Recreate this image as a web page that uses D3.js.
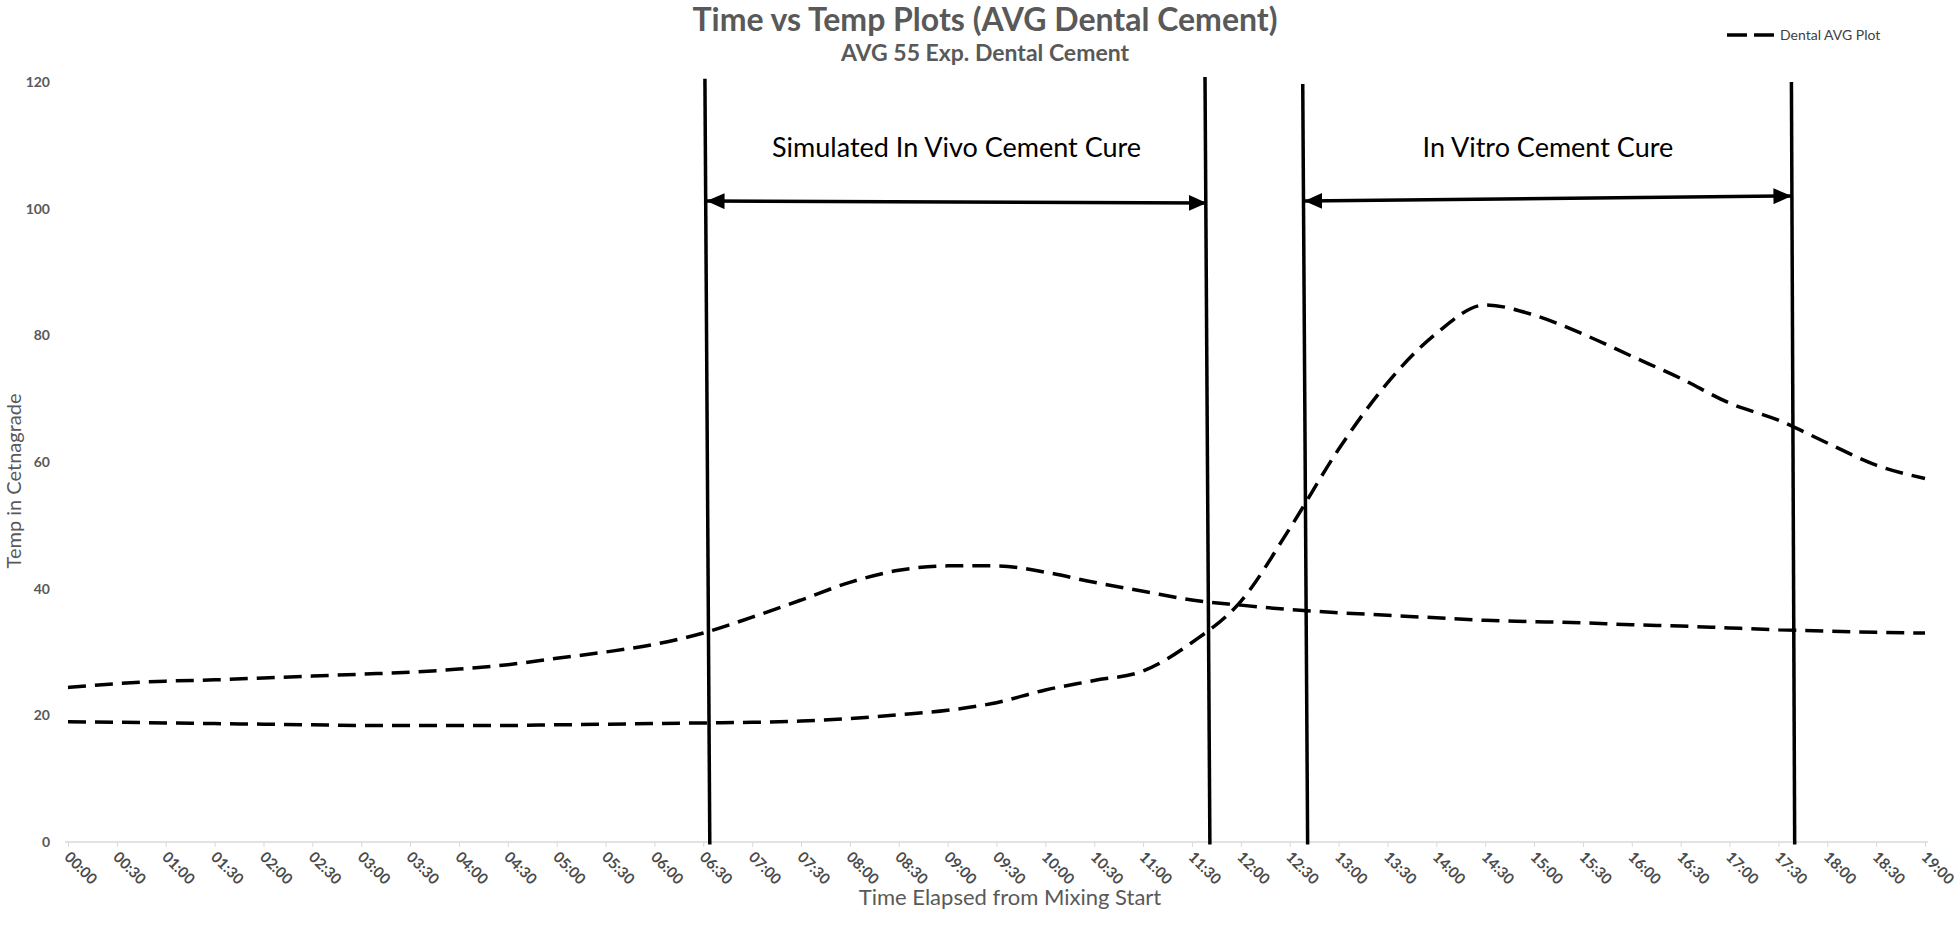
<!DOCTYPE html>
<html><head><meta charset="utf-8">
<script src="https://cdn.jsdelivr.net/npm/d3@7"></script>
<style>
body{margin:0;background:#fff}
text{font-family:Lato,"Open Sans",sans-serif}
</style>
</head><body>
<svg id="chart" width="1960" height="936"></svg>
<script>
// ---- data ----
const timeLabels = ["00:00","00:30","01:00","01:30","02:00","02:30","03:00","03:30","04:00","04:30",
  "05:00","05:30","06:00","06:30","07:00","07:30","08:00","08:30","09:00","09:30",
  "10:00","10:30","11:00","11:30","12:00","12:30","13:00","13:30","14:00","14:30",
  "15:00","15:30","16:00","16:30","17:00","17:30","18:00","18:30","19:00"];
const curveLowStart = [19.0,18.9,18.8,18.7,18.6,18.5,18.4,18.4,18.4,18.4,
  18.5,18.6,18.7,18.8,18.9,19.1,19.5,20.1,20.8,22.0,
  24.0,25.5,27.0,31.5,38.0,49.5,62.0,72.5,80.3,84.8,
  83.2,80.2,76.7,73.2,69.3,66.6,63.0,59.5,57.4];
const curveHighStart = [24.4,25.0,25.4,25.6,25.9,26.2,26.5,26.8,27.3,28.0,
  29.0,30.0,31.2,33.0,35.5,38.2,41.0,42.9,43.6,43.6,
  42.6,41.0,39.6,38.2,37.4,36.7,36.2,35.8,35.4,35.0,
  34.8,34.6,34.3,34.1,33.8,33.5,33.3,33.1,33.0];
const yTickValues = [0,20,40,60,80,100,120];
const legendLabel = "Dental AVG Plot";
// annotation lines: minutes elapsed at top/bottom, temperature at top/bottom
const cureLines = [
  {tTop:391, tBottom:394, vTop:120.5, vBottom:-0.4},
  {tTop:698, tBottom:701, vTop:120.8, vBottom:-0.4},
  {tTop:758, tBottom:761, vTop:119.7, vBottom:-0.4},
  {tTop:1058,tBottom:1060,vTop:120.0, vBottom:-0.4}
];
const cureArrows = [
  {tFrom:392, tTo:699, vFrom:101.2, vTo:100.9, label:"Simulated In Vivo Cement Cure", vLabel:108.2},
  {tFrom:759, tTo:1058, vFrom:101.2, vTo:102.0, label:"In Vitro Cement Cure", vLabel:108.2}
];

// ---- scales ----
const minutes = timeLabels.map(s => { const [h,m] = s.split(":").map(Number); return h*60+m; });
const x = d3.scaleLinear().domain([0, 1140]).range([68, 1925]);
const y = d3.scaleLinear().domain([0, 120]).range([842, 82]);
const svg = d3.select("#chart");
const grey = "#595959";

// titles
svg.append("text").attr("x", 985).attr("y", 31).attr("text-anchor","middle")
  .attr("font-size", 32).attr("font-weight","bold").attr("fill", grey)
  .text("Time vs Temp Plots (AVG Dental Cement)");
svg.append("text").attr("x", 985).attr("y", 61).attr("text-anchor","middle")
  .attr("font-size", 23).attr("font-weight","bold").attr("fill", grey)
  .text("AVG 55 Exp. Dental Cement");

// x axis
const xAxis = d3.axisBottom(x).tickValues(minutes).tickFormat((d,i)=>timeLabels[i]).tickSizeOuter(0).tickSize(5);
const gx = svg.append("g").attr("transform", `translate(0,${y(0)})`).call(xAxis);
gx.select(".domain").attr("stroke","#d9d9d9").attr("stroke-width",1.5)
  .attr("d", `M${x(0)-3},0H${x(1140)+3}`);
gx.selectAll(".tick line").attr("stroke","#d9d9d9");
gx.selectAll(".tick text")
  .attr("font-size", 15).attr("font-weight","bold").attr("fill", "#4a4a4a")
  .attr("text-anchor","start").attr("dy", null).attr("y", null)
  .attr("transform", "translate(-5,16) rotate(45)");

// y axis labels
const gy = svg.append("g").attr("transform", "translate(50,0)")
  .call(d3.axisLeft(y).tickValues(yTickValues).tickSize(0).tickPadding(0));
gy.select(".domain").remove();
gy.selectAll(".tick text").attr("font-size", 14).attr("font-weight","bold").attr("fill", grey);

// axis titles
svg.append("text").attr("transform", "translate(21,481) rotate(-90)").attr("text-anchor","middle")
  .attr("font-size", 20).attr("fill", grey).text("Temp in Cetnagrade");
svg.append("text").attr("x", 1010).attr("y", 905).attr("text-anchor","middle")
  .attr("font-size", 22).attr("fill", grey).text("Time Elapsed from Mixing Start");

// curves
const line = d3.line().x((d,i)=>x(minutes[i])).y(d=>y(d)).curve(d3.curveMonotoneX);
[curveHighStart, curveLowStart].forEach(s => {
  svg.append("path").datum(s).attr("d", line).attr("fill","none")
    .attr("stroke","#000").attr("stroke-width",3.5).attr("stroke-dasharray","18 9");
});

// cure bracket lines
svg.selectAll(".cureLine").data(cureLines).enter().append("line")
  .attr("x1", d=>x(d.tTop)).attr("y1", d=>y(d.vTop))
  .attr("x2", d=>x(d.tBottom)).attr("y2", d=>y(d.vBottom))
  .attr("stroke","#000").attr("stroke-width",3.5);

// arrow markers
const defs = svg.append("defs");
defs.append("marker").attr("id","arrowEnd").attr("markerUnits","userSpaceOnUse")
  .attr("markerWidth",18).attr("markerHeight",16).attr("viewBox","0 0 18 16")
  .attr("refX",18).attr("refY",8).attr("orient","auto")
  .append("path").attr("d","M0,0L18,8L0,16Z").attr("fill","#000");
defs.append("marker").attr("id","arrowStart").attr("markerUnits","userSpaceOnUse")
  .attr("markerWidth",18).attr("markerHeight",16).attr("viewBox","0 0 18 16")
  .attr("refX",0).attr("refY",8).attr("orient","auto")
  .append("path").attr("d","M18,0L0,8L18,16Z").attr("fill","#000");

svg.selectAll(".cureArrow").data(cureArrows).enter().append("line")
  .attr("x1", d=>x(d.tFrom)).attr("y1", d=>y(d.vFrom))
  .attr("x2", d=>x(d.tTo)).attr("y2", d=>y(d.vTo))
  .attr("stroke","#000").attr("stroke-width",3.5)
  .attr("marker-start","url(#arrowStart)").attr("marker-end","url(#arrowEnd)");
svg.selectAll(".cureLabel").data(cureArrows).enter().append("text")
  .attr("x", d=>x((d.tFrom+d.tTo)/2)).attr("y", d=>y(d.vLabel))
  .attr("text-anchor","middle").attr("font-size",27).attr("fill","#000")
  .text(d=>d.label);

// legend
const lg = svg.append("g");
lg.append("line").attr("x1",1727).attr("x2",1774).attr("y1",35).attr("y2",35)
  .attr("stroke","#000").attr("stroke-width",3.5).attr("stroke-dasharray","20 7");
lg.append("text").attr("x",1780).attr("y",40).attr("font-size",14).attr("fill","#404040").text(legendLabel);
</script>
</body></html>
